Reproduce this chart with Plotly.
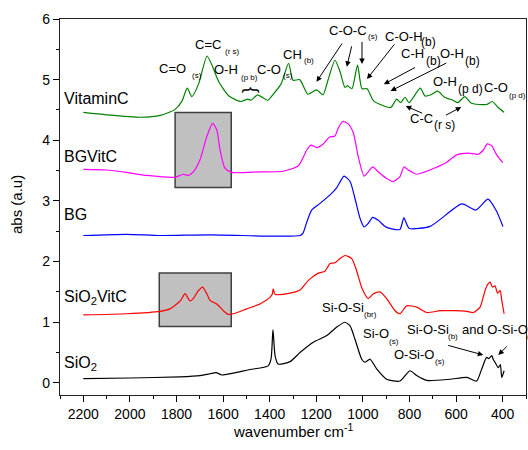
import plotly.graph_objects as go

# ---------------- data ----------------
wn_vitc = [2200, 2100, 1952, 1870, 1806, 1776, 1754, 1734, 1705, 1669, 1648, 1618, 1575, 1524, 1495, 1480,
           1452, 1409, 1387, 1351, 1319, 1300, 1271, 1236, 1199, 1171, 1150, 1120, 1098, 1077, 1066, 1047,
           1023, 1004, 982, 954, 881, 855, 838, 819, 802, 754, 733, 708, 679, 650, 614, 592, 563, 534,
           469, 445, 419, 394]
ab_vitc = [4.46, 4.42, 4.38, 4.41, 4.51, 4.65, 4.86, 4.72, 4.93, 5.39, 5.24, 4.96, 4.73, 4.64, 4.68, 4.66,
           4.75, 4.66, 4.75, 4.93, 5.27, 4.99, 5.00, 4.76, 4.83, 4.75, 4.99, 5.32, 5.13, 4.87, 4.90, 4.85,
           5.24, 4.85, 4.85, 4.65, 4.54, 4.68, 4.62, 4.71, 4.62, 4.86, 4.73, 4.75, 4.81, 4.71, 4.66, 4.62,
           4.72, 4.61, 4.59, 4.64, 4.54, 4.46]

wn_bgv = [2200, 2100, 2014, 1928, 1806, 1771, 1749, 1728, 1699, 1670, 1645, 1627, 1613, 1592, 1563, 1442,
          1342, 1277, 1241, 1223, 1198, 1170, 1144, 1120, 1106, 1087, 1063, 1041, 1020, 995, 977, 958,
          934, 898, 870, 841, 824, 805, 769, 712, 648, 597, 548, 505, 483, 466, 447, 426, 400]
ab_bgv = [3.52, 3.51, 3.47, 3.42, 3.39, 3.44, 3.42, 3.48, 3.68, 4.06, 4.28, 4.17, 3.84, 3.54, 3.47, 3.48,
          3.49, 3.58, 3.84, 3.92, 3.88, 3.94, 4.05, 4.07, 4.20, 4.31, 4.27, 4.12, 3.73, 3.41, 3.48, 3.56,
          3.48, 3.37, 3.32, 3.40, 3.56, 3.51, 3.44, 3.51, 3.62, 3.76, 3.79, 3.77, 3.84, 3.94, 3.91, 3.76, 3.63]

wn_bg = [2200, 2014, 1871, 1656, 1385, 1270, 1257, 1241, 1220, 1184, 1141, 1112, 1081, 1055, 1034, 1012,
         995, 977, 958, 934, 905, 876, 841, 824, 802, 712, 575, 515, 463, 429, 399]
ab_bg = [2.43, 2.45, 2.43, 2.44, 2.42, 2.43, 2.47, 2.65, 2.85, 2.96, 3.10, 3.22, 3.41, 3.32, 3.04, 2.71,
         2.57, 2.63, 2.73, 2.68, 2.58, 2.54, 2.53, 2.72, 2.55, 2.58, 2.95, 2.85, 3.03, 2.85, 2.58]

wn_sv = [2200, 2014, 1871, 1828, 1799, 1782, 1763, 1742, 1728, 1706, 1688, 1670, 1656, 1627, 1599, 1578,
         1556, 1499, 1442, 1399, 1389, 1385, 1377, 1313, 1270, 1234, 1191, 1163, 1141, 1120, 1098, 1077,
         1048, 1027, 1004, 977, 955, 927, 898, 862, 841, 812, 769, 726, 669, 612, 554, 526, 497, 476,
         465, 454, 444, 433, 422, 411, 404, 394]
ab_sv = [1.12, 1.14, 1.18, 1.22, 1.30, 1.36, 1.47, 1.35, 1.39, 1.52, 1.58, 1.47, 1.36, 1.30, 1.19, 1.13,
         1.14, 1.22, 1.30, 1.41, 1.46, 1.55, 1.46, 1.48, 1.53, 1.69, 1.81, 1.84, 1.97, 1.98, 2.05, 2.10,
         2.05, 1.85, 1.56, 1.39, 1.47, 1.50, 1.39, 1.19, 1.14, 1.27, 1.25, 1.16, 1.19, 1.19, 1.18, 1.16,
         1.25, 1.52, 1.62, 1.66, 1.58, 1.60, 1.48, 1.52, 1.36, 1.14]

wn_si = [2200, 2000, 1785, 1699, 1656, 1630, 1605, 1485, 1407, 1394, 1386, 1377, 1364, 1313, 1270, 1213,
         1155, 1112, 1077, 1055, 1034, 1005, 991, 969, 941, 898, 841, 798, 769, 726, 626, 554, 512, 490,
         469, 460, 447, 440, 433, 419, 410, 404, 394]
ab_si = [0.07, 0.08, 0.10, 0.12, 0.15, 0.17, 0.13, 0.22, 0.28, 0.40, 0.88, 0.45, 0.31, 0.35, 0.50, 0.67,
         0.78, 0.92, 1.00, 0.94, 0.72, 0.39, 0.34, 0.39, 0.23, 0.06, 0.03, 0.20, 0.12, 0.04, 0.06, 0.09,
         0.03, 0.23, 0.42, 0.40, 0.45, 0.38, 0.34, 0.25, 0.30, 0.09, 0.20]

series = [
    ("VitaminC", wn_vitc, ab_vitc, "#008000"),
    ("BGVitC", wn_bgv, ab_bgv, "#ff00ff"),
    ("BG", wn_bg, ab_bg, "#0000ff"),
    ("SiO2VitC", wn_sv, ab_sv, "#ff0000"),
    ("SiO2", wn_si, ab_si, "#000000"),
]

FONT = "Liberation Sans, Arial, sans-serif"
W, H = 528, 450
ML, MR, MT, MB = 60, 2, 19, 55
PW, PH = W - ML - MR, H - MT - MB

def px(x):
    return (x - ML) / PW

def py(y):
    return (H - MB - y) / PH

fig = go.Figure()
for name, x, y, c in series:
    fig.add_trace(go.Scatter(x=x, y=y, mode="lines", name=name,
                             line=dict(color=c, width=1.2, shape="spline", smoothing=0.6),
                             showlegend=False, hoverinfo="skip"))

# highlight boxes
fig.add_shape(type="rect", xref="x", yref="y", x0=1806, x1=1565, y0=3.22, y1=4.46,
              fillcolor="#c0c0c0", line=dict(color="#404040", width=1.5), layer="below")
fig.add_shape(type="rect", xref="x", yref="y", x0=1874, x1=1565, y0=0.93, y1=1.81,
              fillcolor="#c0c0c0", line=dict(color="#404040", width=1.5), layer="below")

ann = []

def txt(t, x, y, size, xanchor="center", angle=0):
    ann.append(dict(text=t, x=px(x), y=py(y), xref="paper", yref="paper", showarrow=False,
                    xanchor=xanchor, yanchor="middle", textangle=angle,
                    font=dict(family=FONT, size=size, color="#000")))

def arrow(hx, hy, tx, ty):
    ann.append(dict(text="", x=px(hx), y=py(hy), xref="paper", yref="paper", showarrow=True,
                    ax=tx - hx, ay=ty - hy, arrowhead=2, arrowsize=1.1, arrowwidth=1,
                    arrowcolor="#000", standoff=0))

# series labels
txt("VitaminC", 62, 98, 16, "left")
txt("BGVitC", 62, 156, 16, "left")
txt("BG", 62, 215, 16, "left")
txt("SiO<sub>2</sub>VitC", 62, 297, 16, "left")
txt("SiO<sub>2</sub>", 62, 363, 16, "left")

# peak labels (main, subscript)
MS, SS, BS = 13, 8, 12
txt("C=O", 172, 68, MS); txt("(s)", 190, 75, SS, "left")
txt("C=C", 208, 44, MS); txt("(r s)", 223, 51, SS, "left")
txt("O-H", 226, 70, MS); txt("(p b)", 239, 77, SS, "left")
txt("{", 252, 90, 18, "center", 90)
txt("C-O", 269, 70, MS); txt("(s)", 281, 75, SS, "left")
txt("CH", 292, 54, MS); txt("(b)", 302, 61, SS, "left")
txt("C-O-C", 348, 31, MS); txt("(s)", 366, 37, SS, "left")
txt("C-O-H", 404, 36, MS); txt("(b)", 419, 42, BS, "left")
txt("C-H", 412, 53, MS); txt("(b)", 424, 61, BS, "left")
txt("O-H", 452, 53, MS); txt("(b)", 463, 61, BS, "left")
txt("O-H", 445, 82, MS); txt("(p d)", 456, 89, BS, "left")
txt("C-O", 496, 88, MS); txt("(p d)", 507, 95, SS, "left")
txt("C-C", 421, 118, MS); txt("(r s)", 432, 125, BS, "left")
txt("Si-O-Si", 343, 307, MS); txt("(br)", 362, 314, SS, "left")
txt("Si-O", 376, 333, MS); txt("(s)", 387, 341, SS, "left")
txt("O-Si-O", 414, 354, MS); txt("(s)", 433, 361, SS, "left")
txt("Si-O-Si", 428, 329, MS); txt("(b)", 446, 336, SS, "left")
txt("and O-Si-O", 460, 329, MS, "left"); txt("(b)", 525, 336, SS, "left")

arrow(316.5, 81.8, 343, 42)
arrow(346.8, 66.7, 352, 44.8)
arrow(362, 64, 362, 40.4)
arrow(367, 79, 395.6, 42.8)
arrow(383.8, 84.2, 416.5, 66.7)
arrow(390.6, 91, 447.8, 62.3)
arrow(405.7, 106, 423.6, 113.8)
arrow(461.3, 107, 444.4, 116)
arrow(483.3, 355, 446.7, 345)
arrow(498.3, 355, 508.3, 345)

# axis titles
txt("abs (a.u)", 16, 205, 15, "center", -90)
txt("wavenumber cm<sup>-1</sup>", 293, 430, 15, "center")

fig.update_layout(
    width=W, height=H, margin=dict(l=ML, r=MR, t=MT, b=MB),
    paper_bgcolor="white", plot_bgcolor="white",
    font=dict(family=FONT, size=14, color="#000"),
    annotations=ann,
    xaxis=dict(range=[2300, 300], tickvals=[2200, 2000, 1800, 1600, 1400, 1200, 1000, 800, 600, 400],
               ticks="outside", ticklen=6, tickwidth=1, tickcolor="#000",
               minor=dict(dtick=100, tick0=300, ticks="outside", ticklen=3, tickcolor="#000"),
               showline=True, linecolor="#222", linewidth=1.3, mirror=True,
               showgrid=False, zeroline=False, tickfont=dict(size=14)),
    yaxis=dict(range=[-0.2, 6], tickvals=[0, 1, 2, 3, 4, 5, 6],
               ticks="outside", ticklen=6, tickwidth=1, tickcolor="#000",
               minor=dict(dtick=0.5, tick0=0, ticks="outside", ticklen=3, tickcolor="#000"),
               showline=True, linecolor="#222", linewidth=1.3, mirror=True,
               showgrid=False, zeroline=False, tickfont=dict(size=14)),
)

fig.write_html("out.html")
